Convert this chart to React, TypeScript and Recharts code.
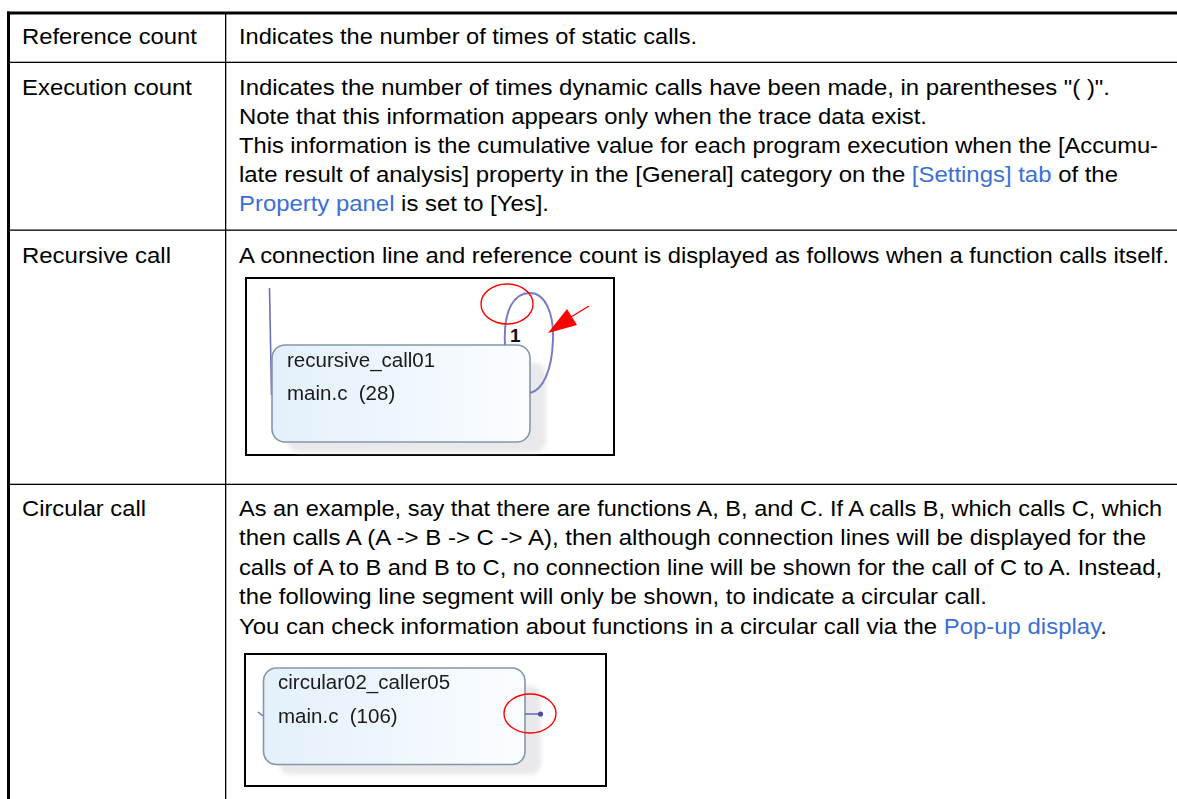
import React from "react";
import { Surface, Layer, Rectangle, Curve, Dot } from "recharts";

const W = 1177;
const H = 799;

const rowLabels: string[] = ["Reference count", "Execution count", "Recursive call", "Circular call"];

const row1Lines: string[] = ["Indicates the number of times of static calls."];
const row2Lines: string[] = [
  'Indicates the number of times dynamic calls have been made, in parentheses "( )".',
  "Note that this information appears only when the trace data exist.",
  "This information is the cumulative value for each program execution when the [Accumu-",
  "late result of analysis] property in the [General] category on the [Settings] tab of the",
  "Property panel is set to [Yes].",
];
const row3Lines: string[] = [
  "A connection line and reference count is displayed as follows when a function calls itself.",
];
const row4Lines: string[] = [
  "As an example, say that there are functions A, B, and C. If A calls B, which calls C, which",
  "then calls A (A -> B -> C -> A), then although connection lines will be displayed for the",
  "calls of A to B and B to C, no connection line will be shown for the call of C to A. Instead,",
  "the following line segment will only be shown, to indicate a circular call.",
  "You can check information about functions in a circular call via the Pop-up display.",
];
const linkPhrases: string[] = ["[Settings] tab", "Property panel", "Pop-up display"];

const node1Lines: string[] = ["recursive_call01", "main.c  (28)"];
const node2Lines: string[] = ["circular02_caller05", "main.c  (106)"];
const loopCount: string[] = ["1"];

// layout: right end (px) of each typeset line, as set in the source document
const labelEnds = [197, 192, 171, 146];
const row1Ends = [697];
const row2Ends = [1110, 927, 1158, 1118, 549];
const row3Ends = [1169];
const row4Ends = [1162, 1146, 1162, 987, 1107];

const FONT = "'Liberation Sans', Arial, sans-serif";
const FS = 22.6;
const LINK = "#3b6fd6";

function splitLinks(line: string): { t: string; link: boolean }[] {
  const out: { t: string; link: boolean }[] = [];
  let rest = line;
  while (rest.length) {
    let best = -1;
    let phrase = "";
    for (const p of linkPhrases) {
      const i = rest.indexOf(p);
      if (i >= 0 && (best < 0 || i < best)) {
        best = i;
        phrase = p;
      }
    }
    if (best < 0) {
      out.push({ t: rest, link: false });
      break;
    }
    if (best > 0) out.push({ t: rest.slice(0, best), link: false });
    out.push({ t: phrase, link: true });
    rest = rest.slice(best + phrase.length);
  }
  return out;
}

function Lines({ lines, ends, x, y0, dy }: { lines: string[]; ends: number[]; x: number; y0: number; dy: number }) {
  return (
    <Layer>
      {lines.map((ln, i) => (
        <text
          key={i}
          x={x}
          y={y0 + i * dy}
          fontFamily={FONT}
          fontSize={FS}
          fill="#000"
          textLength={ends[i] - x}
          lengthAdjust="spacingAndGlyphs"
          style={{ whiteSpace: "pre" }}
        >
          {splitLinks(ln).map((s, j) => (
            <tspan key={j} fill={s.link ? LINK : "#000"}>
              {s.t}
            </tspan>
          ))}
        </text>
      ))}
    </Layer>
  );
}

function NodeBox({ x, y, w, h, lines, tx, ty1, ty2, gid }: any) {
  return (
    <Layer>
      <Rectangle x={x + 16} y={y + 18} width={w} height={h - 8} radius={10} fill="#e9e9ec" stroke="none" filter="url(#soft)" />
      <Rectangle x={x} y={y} width={w} height={h} radius={13} fill={`url(#${gid})`} stroke="#8596ab" strokeWidth={1.6} />
      <text x={tx} y={ty1} fontFamily={FONT} fontSize={20.5} fill="#1a1a1a" filter="url(#blurT)">
        {lines[0]}
      </text>
      <text x={tx} y={ty2} fontFamily={FONT} fontSize={20.5} fill="#1a1a1a" filter="url(#blurT)" style={{ whiteSpace: "pre" }}>
        {lines[1]}
      </text>
    </Layer>
  );
}

export default function App() {
  return (
    <div style={{ position: "absolute", left: 0, top: 0, width: W, height: H, background: "#fff", overflow: "hidden" }}>
      <Surface width={W} height={H} viewBox={{ x: 0, y: 0, width: W, height: H }}>
        <defs>
          <linearGradient id="g1" x1="0" y1="0" x2="1" y2="0">
            <stop offset="0" stopColor="#e3f0fb" />
            <stop offset="1" stopColor="#fbfdff" />
          </linearGradient>
          <filter id="soft" x="-10%" y="-10%" width="120%" height="120%">
            <feGaussianBlur stdDeviation="2" />
          </filter>
          <filter id="blurT" x="-5%" y="-20%" width="110%" height="140%">
            <feGaussianBlur stdDeviation="0.35" />
          </filter>
        </defs>

        {/* table rules */}
        <rect x={7} y={11.5} width={W - 7} height={3} fill="#000" />
        <rect x={7} y={11.5} width={3} height={H} fill="#000" />
        <rect x={225} y={14} width={1.3} height={H} fill="#000" />
        <rect x={10} y={61.7} width={W} height={1.3} fill="#000" />
        <rect x={10} y={229.5} width={W} height={1.3} fill="#000" />
        <rect x={10} y={483.7} width={W} height={1.3} fill="#000" />

        {/* left labels */}
        <Lines lines={[rowLabels[0]]} ends={[labelEnds[0]]} x={22} y0={43.5} dy={29} />
        <Lines lines={[rowLabels[1]]} ends={[labelEnds[1]]} x={22} y0={94.5} dy={29} />
        <Lines lines={[rowLabels[2]]} ends={[labelEnds[2]]} x={22} y0={262.5} dy={29} />
        <Lines lines={[rowLabels[3]]} ends={[labelEnds[3]]} x={22} y0={515.5} dy={29} />

        {/* right descriptions */}
        <Lines lines={row1Lines} ends={row1Ends} x={239} y0={43.5} dy={29} />
        <Lines lines={row2Lines} ends={row2Ends} x={239} y0={94.5} dy={29.1} />
        <Lines lines={row3Lines} ends={row3Ends} x={239} y0={262.5} dy={29} />
        <Lines lines={row4Lines} ends={row4Ends} x={239} y0={515.5} dy={29.5} />

        {/* diagram 1: recursive call */}
        <rect x={246} y={278} width={368} height={177} fill="#fff" stroke="#000" strokeWidth={2} />
        <Curve type="linear" points={[{ x: 269.5, y: 288 }, { x: 271.5, y: 395 }]} stroke="#6f6fb8" strokeWidth={1.6} fill="none" />
        <NodeBox x={272} y={345} w={258} h={97} lines={node1Lines} gid="g1" tx={287} ty1={367} ty2={400} />
        <path
          d="M 505 345 C 503 308, 515 293, 530 293 C 545 293, 554 313, 553 340 C 552 370, 543 390, 530 393"
          fill="none"
          stroke="#7b7bc4"
          strokeWidth={2}
        />
        <text x={510} y={342} fontFamily={FONT} fontSize={19} fontWeight={700} fill="#111">
          {loopCount[0]}
        </text>
        <ellipse cx={507} cy={304} rx={26} ry={20} fill="none" stroke="#ff0000" strokeWidth={1.4} />
        <Curve type="linear" points={[{ x: 589, y: 306 }, { x: 571, y: 317 }]} stroke="#ff0000" strokeWidth={1.4} fill="none" />
        <polygon points="548,333 567,309 577,325" fill="#ff0000" />

        {/* diagram 2: circular call */}
        <rect x={245} y={654} width={361} height={132} fill="#fff" stroke="#000" strokeWidth={2} />
        <NodeBox x={263.5} y={668} w={261.5} h={96.5} lines={node2Lines} gid="g1" tx={278} ty1={689} ty2={723} />
        <Curve type="linear" points={[{ x: 258, y: 712 }, { x: 263, y: 716 }]} stroke="#6f6fb8" strokeWidth={1.4} fill="none" />
        <Curve type="linear" points={[{ x: 525, y: 714 }, { x: 540, y: 714 }]} stroke="#6f6fb8" strokeWidth={1.6} fill="none" />
        <Dot cx={540.5} cy={714} r={2.6} fill="#4a4aa8" stroke="none" />
        <ellipse cx={530} cy={713.5} rx={26} ry={19.5} fill="none" stroke="#ff0000" strokeWidth={1.4} />
      </Surface>
    </div>
  );
}
